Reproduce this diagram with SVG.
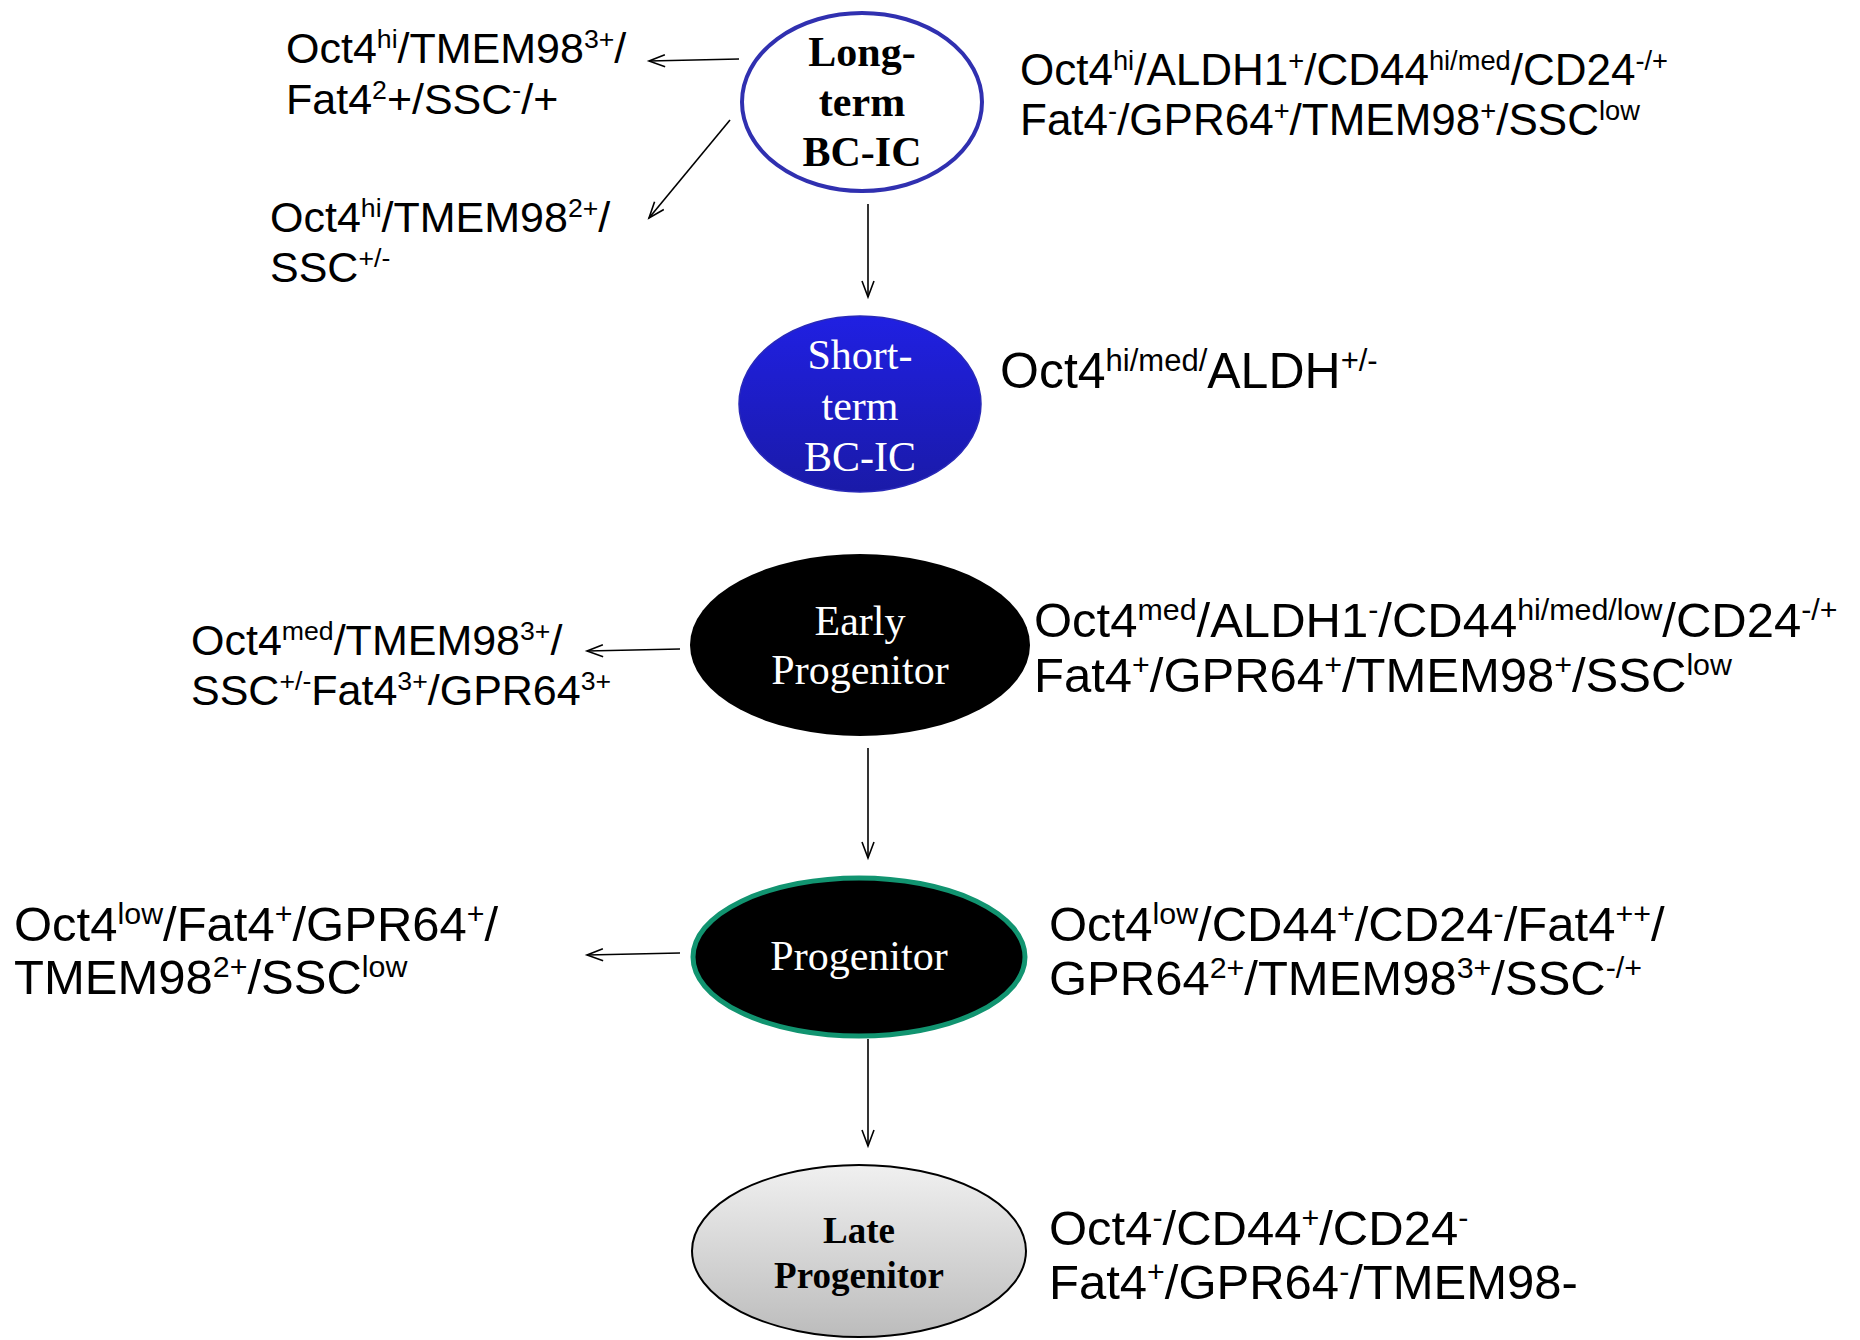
<svg xmlns="http://www.w3.org/2000/svg" width="1860" height="1340" viewBox="0 0 1860 1340">
<style>
.lbl{font-family:"Liberation Sans",Arial,sans-serif;fill:#000}
.s{font-size:62%;baseline-shift:super}
.nt{font-family:"Liberation Serif","Times New Roman",serif;text-anchor:middle}
.conn{stroke:#000;stroke-width:1.6;fill:none}
</style>
<defs>
<marker id="ah" markerUnits="userSpaceOnUse" markerWidth="20" markerHeight="16" refX="17" refY="7" orient="auto">
<path d="M1,1 L17,7 L1,13" fill="none" stroke="#000" stroke-width="1.6"/>
</marker>
<linearGradient id="gBlue" x1="0" y1="0" x2="0" y2="1">
<stop offset="0" stop-color="#2020e2"/>
<stop offset="1" stop-color="#1a1aa8"/>
</linearGradient>
<linearGradient id="gGray" x1="0" y1="0" x2="0" y2="1">
<stop offset="0" stop-color="#f0f0f0"/>
<stop offset="1" stop-color="#bcbcbc"/>
</linearGradient>
</defs>
<rect width="1860" height="1340" fill="#fff"/>

<g id="connectors">
<line class="conn" x1="739" y1="59" x2="649" y2="61" marker-end="url(#ah)"/>
<line class="conn" x1="730" y1="120" x2="649" y2="218" marker-end="url(#ah)"/>
<line class="conn" x1="868" y1="204" x2="868" y2="297" marker-end="url(#ah)"/>
<line class="conn" x1="680" y1="649" x2="587" y2="651" marker-end="url(#ah)"/>
<line class="conn" x1="868" y1="748" x2="868" y2="858" marker-end="url(#ah)"/>
<line class="conn" x1="680" y1="953" x2="587" y2="955" marker-end="url(#ah)"/>
<line class="conn" x1="868" y1="1039" x2="868" y2="1146" marker-end="url(#ah)"/>
</g>

<g id="long-term">
<ellipse cx="862" cy="102" rx="120" ry="89" fill="#fff" stroke="#3030b0" stroke-width="4"/>
<text class="nt" font-weight="bold" font-size="42" x="862" y="66">Long-</text>
<text class="nt" font-weight="bold" font-size="42" x="862" y="116">term</text>
<text class="nt" font-weight="bold" font-size="42" x="862" y="166">BC-IC</text>
</g>

<g id="short-term">
<ellipse cx="860" cy="404" rx="121" ry="88" fill="url(#gBlue)" stroke="#2a2ab8" stroke-width="1.5"/>
<text class="nt" fill="#fff" font-size="42" x="860" y="369">Short-</text>
<text class="nt" fill="#fff" font-size="42" x="860" y="420">term</text>
<text class="nt" fill="#fff" font-size="42" x="860" y="471">BC-IC</text>
</g>

<g id="early-progenitor">
<ellipse cx="860" cy="645" rx="170" ry="91" fill="#000"/>
<text class="nt" fill="#fff" font-size="42" x="860" y="635">Early</text>
<text class="nt" fill="#fff" font-size="42" x="860" y="684">Progenitor</text>
</g>

<g id="progenitor">
<ellipse cx="859" cy="957" rx="166" ry="79" fill="#000" stroke="#119470" stroke-width="5"/>
<text class="nt" fill="#fff" font-size="42" x="859" y="970">Progenitor</text>
</g>

<g id="late-progenitor">
<ellipse cx="859" cy="1251" rx="167" ry="86" fill="url(#gGray)" stroke="#000" stroke-width="2"/>
<text class="nt" font-weight="bold" font-size="37" x="859" y="1243">Late</text>
<text class="nt" font-weight="bold" font-size="37" x="859" y="1288">Progenitor</text>
</g>

<g id="labels">
<text class="lbl" font-size="43" x="286" y="63">Oct4<tspan class="s">hi</tspan>/TMEM98<tspan class="s">3+</tspan>/</text>
<text class="lbl" font-size="43" x="286" y="114">Fat4<tspan class="s">2</tspan>+/SSC<tspan class="s">-</tspan>/+</text>

<text class="lbl" font-size="43" x="270" y="232">Oct4<tspan class="s">hi</tspan>/TMEM98<tspan class="s">2+</tspan>/</text>
<text class="lbl" font-size="43" x="270" y="282">SSC<tspan class="s">+/-</tspan></text>

<text class="lbl" font-size="44" x="1020" y="85">Oct4<tspan class="s">hi</tspan>/ALDH1<tspan class="s">+</tspan>/CD44<tspan class="s">hi/med</tspan>/CD24<tspan class="s">-/+</tspan></text>
<text class="lbl" font-size="44" x="1020" y="135">Fat4<tspan class="s">-</tspan>/GPR64<tspan class="s">+</tspan>/TMEM98<tspan class="s">+</tspan>/SSC<tspan class="s">low</tspan></text>

<text class="lbl" font-size="50" x="1000" y="388">Oct4<tspan class="s">hi/med/</tspan>ALDH<tspan class="s">+/-</tspan></text>

<text class="lbl" font-size="43" x="191" y="655">Oct4<tspan class="s">med</tspan>/TMEM98<tspan class="s">3+</tspan>/</text>
<text class="lbl" font-size="43" x="191" y="705">SSC<tspan class="s">+/-</tspan>Fat4<tspan class="s">3+</tspan>/GPR64<tspan class="s">3+</tspan></text>

<text class="lbl" font-size="49" x="1034" y="637">Oct4<tspan class="s">med</tspan>/ALDH1<tspan class="s">-</tspan>/CD44<tspan class="s">hi/med/low</tspan>/CD24<tspan class="s">-/+</tspan></text>
<text class="lbl" font-size="49" x="1034" y="692">Fat4<tspan class="s">+</tspan>/GPR64<tspan class="s">+</tspan>/TMEM98<tspan class="s">+</tspan>/SSC<tspan class="s">low</tspan></text>

<text class="lbl" font-size="49" x="14" y="941">Oct4<tspan class="s">low</tspan>/Fat4<tspan class="s">+</tspan>/GPR64<tspan class="s">+</tspan>/</text>
<text class="lbl" font-size="49" x="14" y="994">TMEM98<tspan class="s">2+</tspan>/SSC<tspan class="s">low</tspan></text>

<text class="lbl" font-size="49" x="1049" y="941">Oct4<tspan class="s">low</tspan>/CD44<tspan class="s">+</tspan>/CD24<tspan class="s">-</tspan>/Fat4<tspan class="s">++</tspan>/</text>
<text class="lbl" font-size="49" x="1049" y="995">GPR64<tspan class="s">2+</tspan>/TMEM98<tspan class="s">3+</tspan>/SSC<tspan class="s">-/+</tspan></text>

<text class="lbl" font-size="49" x="1049" y="1245">Oct4<tspan class="s">-</tspan>/CD44<tspan class="s">+</tspan>/CD24<tspan class="s">-</tspan></text>
<text class="lbl" font-size="49" x="1049" y="1299">Fat4<tspan class="s">+</tspan>/GPR64<tspan class="s">-</tspan>/TMEM98-</text>
</g>
</svg>
